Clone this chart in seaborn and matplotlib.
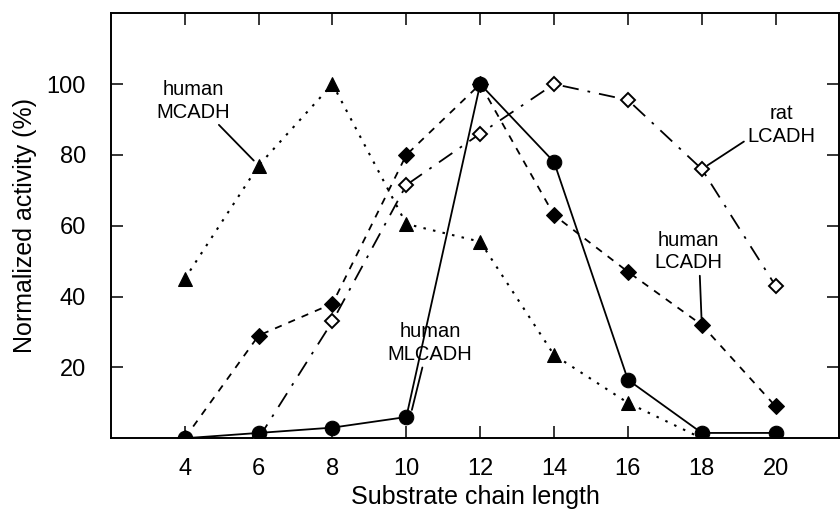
import numpy as np
import pandas as pd
import matplotlib
matplotlib.use('Agg')
import matplotlib.pyplot as plt
import seaborn as sns

# substrate chain lengths (x)
chain = [4, 6, 8, 10, 12, 14, 16, 18, 20]
chain_rat = [6, 8, 10, 12, 14, 16, 18, 20]

# normalized activity (%)
human_mcadh = [45, 77, 100, 60.5, 55.5, 23.5, 10, 0, 0]
human_mlcadh = [0, 1.5, 3, 6, 100, 78, 16.5, 1.5, 1.5]
human_lcadh = [0, 29, 38, 80, 100, 63, 47, 32, 9]
rat_lcadh = [0, 33, 71.5, 86, 100, 95.5, 76, 43]

x_ticks = [4, 6, 8, 10, 12, 14, 16, 18, 20]
y_ticks = [20, 40, 60, 80, 100]

sns.set_style('ticks')
plt.rcParams['font.family'] = ['Liberation Sans', 'DejaVu Sans']
plt.rcParams['text.color'] = 'black'
plt.rcParams['axes.labelcolor'] = 'black'

fig = plt.figure(figsize=(8.4, 5.09), dpi=100)
ax = fig.add_axes([0.132, 0.139, 0.867, 0.835])

# 线条 + 标记
sns.lineplot(x=chain, y=human_lcadh, ax=ax, color='black', linestyle=(0, (4, 4)),
             linewidth=1.3, marker='D', markersize=8, markerfacecolor='black',
             markeredgecolor='black', zorder=3)
sns.lineplot(x=chain_rat, y=rat_lcadh, ax=ax, color='black', linestyle=(0, (9, 5, 1.5, 5)),
             linewidth=1.3, marker='D', markersize=7.5, markerfacecolor='white',
             markeredgecolor='black', markeredgewidth=1.4, zorder=3)
sns.lineplot(x=chain, y=human_mcadh, ax=ax, color='black', linestyle=(0, (1.2, 3.5)),
             linewidth=1.5, marker='^', markersize=10, markerfacecolor='black',
             markeredgecolor='black', zorder=4)
sns.lineplot(x=chain, y=human_mlcadh, ax=ax, color='black', linestyle='-',
             linewidth=1.3, marker='o', markersize=10.5, markerfacecolor='black',
             markeredgecolor='black', zorder=5)

# 注释
ann_kw = dict(fontsize=14.5, ha='center', va='center', linespacing=1.25, color='black')
line_kw = dict(arrowstyle='-', color='black', linewidth=1.3, shrinkA=0, shrinkB=5)
ax.annotate('human\nMCADH', xy=(6, 77), xytext=(4.24, 95.3),
            arrowprops=dict(relpos=(0.8, 0.0), **line_kw), **ann_kw)
ax.annotate('rat\nLCADH', xy=(18, 76), xytext=(20.15, 88.5),
            arrowprops=dict(relpos=(0.0, 0.15), **line_kw), **ann_kw)
ax.annotate('human\nLCADH', xy=(18, 32), xytext=(17.63, 52.7),
            arrowprops=dict(relpos=(0.67, 0.0), **line_kw), **ann_kw)
ax.annotate('human\nMLCADH', xy=(10.15, 8), xytext=(10.64, 26.8),
            arrowprops=dict(relpos=(0.42, 0.0), arrowstyle='-', color='black',
                            linewidth=1.3, shrinkA=0, shrinkB=0), **ann_kw)

ax.set_xlim(2, 21.72)
ax.set_ylim(0, 120)
ax.set_xticks(x_ticks)
ax.set_yticks(y_ticks)
ax.tick_params(direction='in', length=8.5, width=1.1, labelsize=17,
               top=True, right=True, color='black', labelcolor='black')
ax.tick_params(axis='x', pad=14)
ax.tick_params(axis='y', pad=18)
for side in ['left', 'right', 'top', 'bottom']:
    ax.spines[side].set_visible(True)
    ax.spines[side].set_linewidth(1.4)
    ax.spines[side].set_color('black')

ax.set_xlabel('Substrate chain length', fontsize=18, labelpad=4)
ax.set_ylabel('Normalized activity (%)', fontsize=18, labelpad=7)

fig.savefig('out.png', dpi=100)
